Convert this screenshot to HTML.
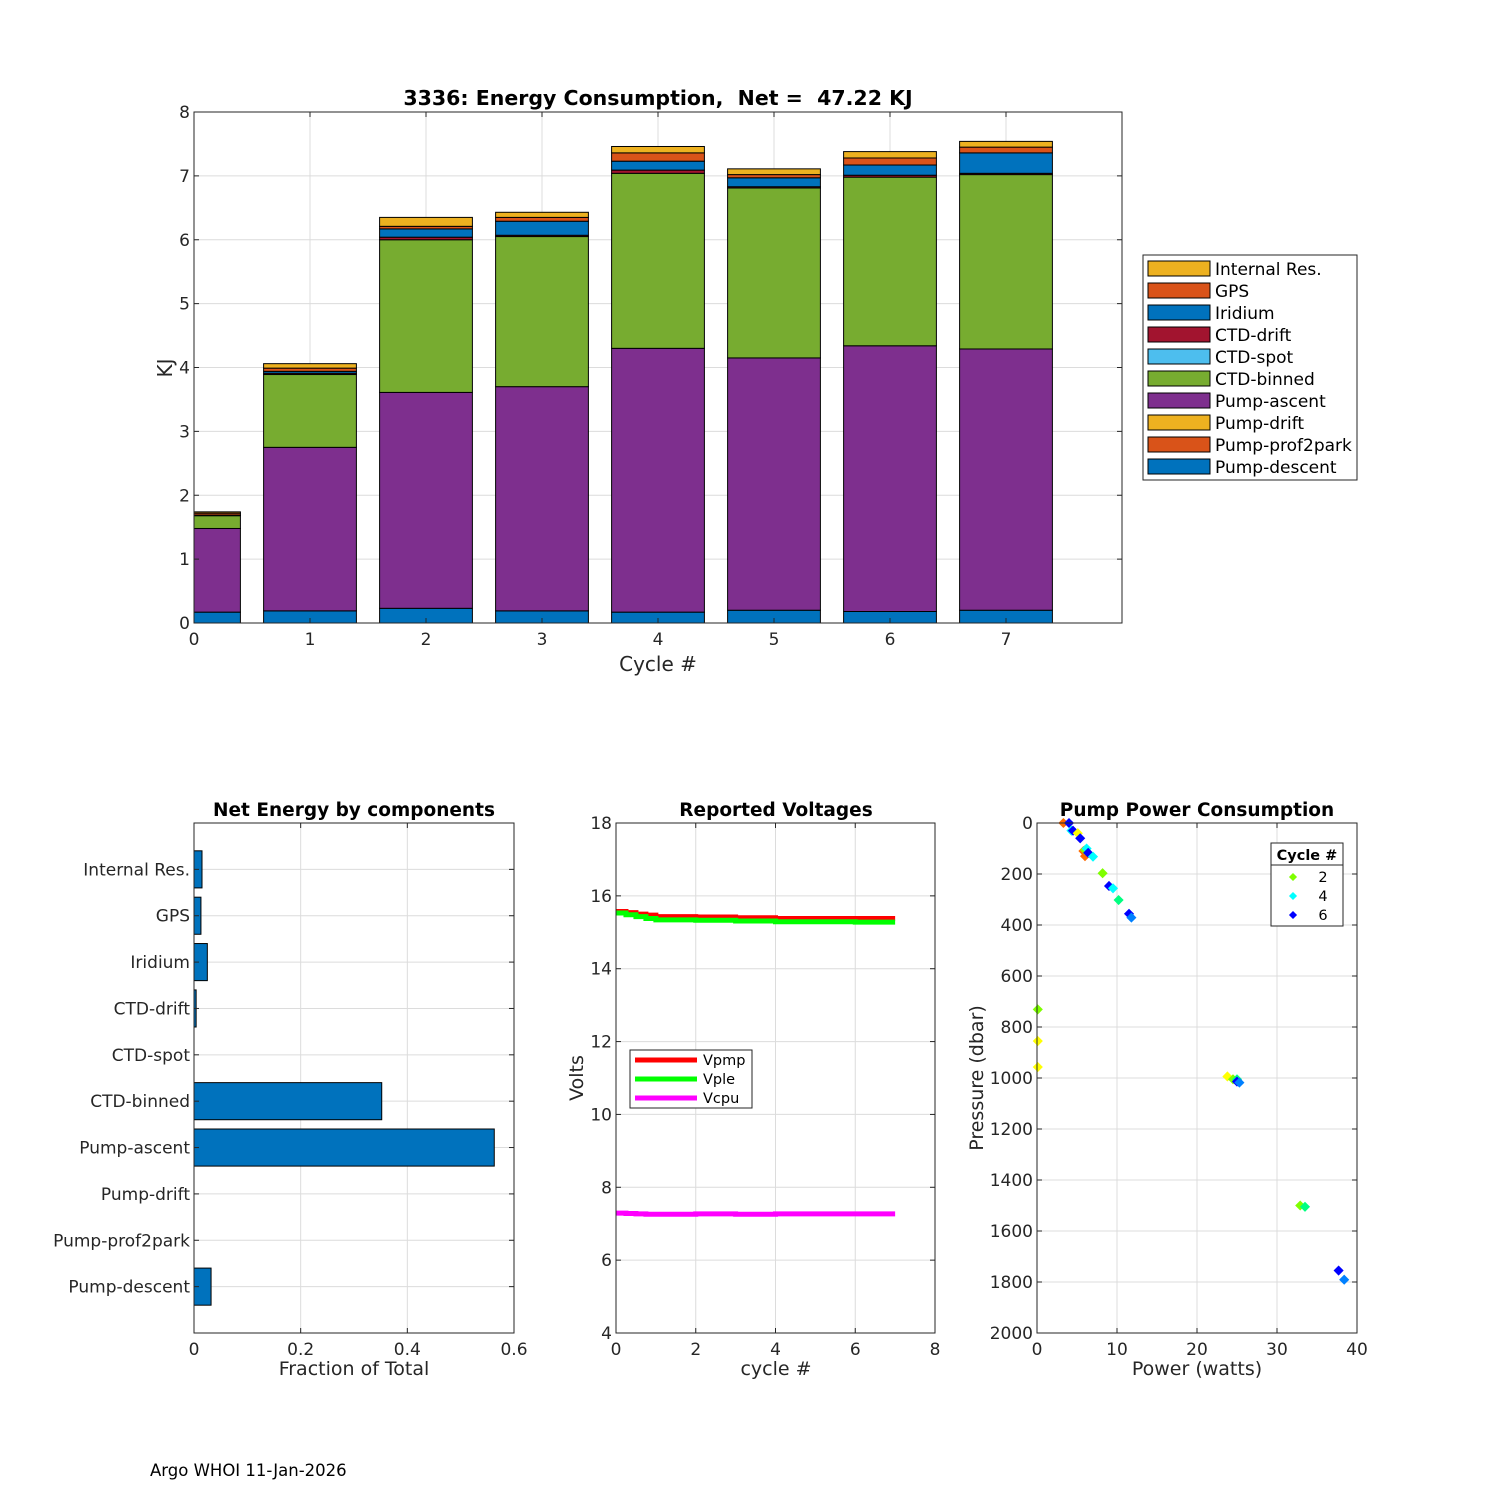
<!DOCTYPE html>
<html><head><meta charset="utf-8"><style>
html,body{margin:0;padding:0;background:#fff;}
svg{display:block;font-family:"DejaVu Sans","Liberation Sans",sans-serif;}
text{white-space:pre;}
</style></head><body>
<svg id="fig" width="1500" height="1500" viewBox="0 0 1500 1500">
<rect width="1500" height="1500" fill="#fff"/>
<text x="150" y="1476" font-size="16.5" fill="#000">Argo WHOI 11-Jan-2026</text>
</svg>
<script>
// ---------- DATA ----------
const cycles = [0,1,2,3,4,5,6,7];
const compNames = ["Pump-descent","Pump-prof2park","Pump-drift","Pump-ascent","CTD-binned","CTD-spot","CTD-drift","Iridium","GPS","Internal Res."];
const compColors = ["#0072BD","#D95319","#EDB120","#7E2F8E","#77AC30","#4DBEEE","#A2142F","#0072BD","#D95319","#EDB120"];
const pumpDescent = [0.17,0.19,0.23,0.19,0.17,0.20,0.18,0.20];
const pumpProf2park = [0,0,0,0,0,0,0,0];
const pumpDrift = [0,0,0,0,0,0,0,0];
const pumpAscent = [1.31,2.56,3.38,3.51,4.13,3.95,4.16,4.09];
const ctdBinned = [0.20,1.14,2.39,2.35,2.74,2.66,2.64,2.73];
const ctdSpot = [0,0,0,0,0,0,0,0];
const ctdDrift = [0.005,0.02,0.04,0.02,0.05,0.02,0.03,0.02];
const iridium = [0.005,0.03,0.13,0.22,0.14,0.14,0.16,0.32];
const gps = [0.03,0.05,0.04,0.06,0.13,0.05,0.11,0.09];
const internalRes = [0.02,0.07,0.14,0.08,0.10,0.09,0.10,0.09];
const netFraction = [0.032,0,0,0.563,0.352,0,0.004,0.025,0.013,0.015];
const vX = [0,0.25,0.5,0.75,1,2,3,4,5,6,7];
const vpmp = [15.57,15.54,15.50,15.47,15.43,15.42,15.40,15.38,15.38,15.38,15.38];
const vple = [15.53,15.48,15.43,15.38,15.34,15.33,15.31,15.29,15.29,15.28,15.28];
const vcpu = [7.29,7.28,7.27,7.26,7.26,7.27,7.26,7.27,7.27,7.27,7.27];
const pumpPower = [3.3,4.0,4.3,4.5,5.1,5.4,5.8,6.0,6.0,6.2,6.4,7.0,8.2,9.0,9.5,10.2,11.5,11.8,0.1,0.1,0.1,23.8,24.5,25.0,25.0,25.3,32.9,33.5,37.7,38.4];
const pumpPres = [0,0,30,30,40,60,110,130,106,100,117,132,197,247,256,302,356,371,731,855,957,994,1005,1005,1014,1018,1500,1505,1755,1791];
const pumpCycle = [0,6,4,6,1,6,0,0,2,4,6,4,2,6,4,3,6,5,2,1,1,1,2,3,6,5,2,3,6,5];
const cycleColors = ["#FF6A00","#FFFF00","#7FFF00","#00FF80","#00FFFF","#0080FF","#0000FF","#000080"];

const NS="http://www.w3.org/2000/svg";
const svg=document.getElementById('fig');
const TICK=17;
function mk(tag,attrs,parent){const e=document.createElementNS(NS,tag);for(const k in attrs)e.setAttribute(k,attrs[k]);(parent||svg).appendChild(e);return e;}
function txt(x,y,s,attrs,parent){const t=mk('text',Object.assign({x:x,y:y,'font-size':TICK,fill:'#262626'},attrs||{}),parent);t.textContent=s;return t;}

function axesFrame(L,T,R,B,xt,yt,sx,sy,g){
  xt.forEach(v=>{const x=sx(v);mk('line',{x1:x,y1:T,x2:x,y2:B,stroke:'#dcdcdc','stroke-width':1},g);});
  yt.forEach(v=>{const y=sy(v);mk('line',{x1:L,y1:y,x2:R,y2:y,stroke:'#dcdcdc','stroke-width':1},g);});
}
function axesBox(L,T,R,B,xt,yt,sx,sy,g,xl,yl){
  mk('rect',{x:L,y:T,width:R-L,height:B-T,fill:'none',stroke:'#262626','stroke-width':1},g);
  xt.forEach((v,i)=>{const x=sx(v);mk('line',{x1:x,y1:B,x2:x,y2:B-5,stroke:'#262626'},g);mk('line',{x1:x,y1:T,x2:x,y2:T+5,stroke:'#262626'},g);
    const t=txt(x,B+22,xl[i],{'text-anchor':'middle'},g);});
  yt.forEach((v,i)=>{const y=sy(v);mk('line',{x1:L,y1:y,x2:L+5,y2:y,stroke:'#262626'},g);mk('line',{x1:R,y1:y,x2:R-5,y2:y,stroke:'#262626'},g);
    if(yl){const t=txt(L-4,y+6,yl[i],{'text-anchor':'end'},g);}});
}

// ---------- TOP CHART ----------
(function(){
  const g=mk('g',{});
  
  
  const L=194,T=112,R=1122,B=623;
  const sx=v=>L+(v/8)*(R-L), sy=v=>B-(v/8)*(B-T);
  const ticks=[0,1,2,3,4,5,6,7,8];
  axesFrame(L,T,R,B,ticks.slice(0,8),ticks,sx,sy,g);
  const series=[pumpDescent,pumpProf2park,pumpDrift,pumpAscent,ctdBinned,ctdSpot,ctdDrift,iridium,gps,internalRes];
  const clip=mk('clipPath',{id:'topclip'},g);mk('rect',{x:L,y:T,width:R-L,height:B-T},clip);
  const bars=mk('g',{'clip-path':'url(#topclip)'},g);
  cycles.forEach((c,i)=>{
    let base=0;
    series.forEach((s,k)=>{
      const v=s[i];
      const r=mk('rect',{x:sx(c-0.4),y:sy(base+v),width:sx(c+0.4)-sx(c-0.4),height:sy(base)-sy(base+v),fill:compColors[k],stroke:'#000','stroke-width':1},bars);
      
      
      base+=v;
    });
  });
  axesBox(L,T,R,B,ticks.slice(0,8),ticks,sx,sy,g,ticks.slice(0,8).map(String),ticks.map(String));
  const tt=txt(658,105,'3336: Energy Consumption,  Net =  47.22 KJ',{'text-anchor':'middle','font-size':20.5,'font-weight':'bold',fill:'#000'},g);
  
  const xl=txt(658,671,'Cycle #',{'text-anchor':'middle','font-size':20},g);
  
  const yl=txt(0,0,'KJ',{'text-anchor':'middle','font-size':20,transform:'translate(172,368) rotate(-90)'},g);
  
  const lg=mk('g',{},g);
  
  mk('rect',{x:1143,y:255,width:214,height:225,fill:'#fff',stroke:'#262626'},lg);
  for(let j=0;j<10;j++){
    const k=9-j, y=268+j*22;
    const e=mk('g',{},lg);
    
    mk('rect',{x:1148,y:y-7,width:62,height:15,fill:compColors[k],stroke:'#000'},e);
    txt(1215,y+7,compNames[k],{fill:'#000'},e);
  }
})();

// ---------- NET ENERGY BY COMPONENTS ----------
(function(){
  const g=mk('g',{});
  
  const L=194,T=823,R=514,B=1333;
  const sx=v=>L+(v/0.6)*(R-L), sy=v=>B-(v/11)*(B-T);
  const xt=[0,0.2,0.4,0.6], yt=[1,2,3,4,5,6,7,8,9,10];
  axesFrame(L,T,R,B,xt,yt,sx,sy,g);
  netFraction.forEach((v,k)=>{
    const yc=k+1;
    if(v>0){const r=mk('rect',{x:sx(0),y:sy(yc+0.4),width:sx(v)-sx(0),height:sy(yc-0.4)-sy(yc+0.4),fill:'#0072BD',stroke:'#000'},g);
    }
  });
  axesBox(L,T,R,B,xt,yt,sx,sy,g,['0','0.2','0.4','0.6'],compNames);
  const t=txt(354,816,'Net Energy by components',{'text-anchor':'middle','font-size':18.5,'font-weight':'bold',fill:'#000'},g);
  
  const xl=txt(354,1375,'Fraction of Total',{'text-anchor':'middle','font-size':19},g);
  
})();

// ---------- VOLTAGES ----------
(function(){
  const g=mk('g',{});
  
  const L=616,T=823,R=935,B=1333;
  const sx=v=>L+(v/8)*(R-L), sy=v=>B-((v-4)/14)*(B-T);
  const xt=[0,2,4,6,8], yt=[4,6,8,10,12,14,16,18];
  axesFrame(L,T,R,B,xt,yt,sx,sy,g);
  function stairs(ys,color,name){
    let d='';
    vX.forEach((x,i)=>{ if(i===0) d+='M'+sx(x)+','+sy(ys[i]); else d+=' H'+sx(x)+' V'+sy(ys[i]); });
    const p=mk('path',{d:d,fill:'none',stroke:color,'stroke-width':5},g);
    
  }
  stairs(vcpu,'#FF00FF','vcpu-line');
  stairs(vpmp,'#FF0000','vpmp-line');
  stairs(vple,'#00FF00','vple-line');
  axesBox(L,T,R,B,xt,yt,sx,sy,g,xt.map(String),yt.map(String));
  const t=txt(776,816,'Reported Voltages',{'text-anchor':'middle','font-size':18.5,'font-weight':'bold',fill:'#000'},g);
  
  const xl=txt(776,1375,'cycle #',{'text-anchor':'middle','font-size':19},g);
  
  const yl=txt(0,0,'Volts',{'text-anchor':'middle','font-size':19,transform:'translate(583,1078) rotate(-90)'},g);
  
  const lg=mk('g',{},g);
  mk('rect',{x:630,y:1050,width:122,height:58,fill:'#fff',stroke:'#262626'},lg);
  [['Vpmp','#FF0000'],['Vple','#00FF00'],['Vcpu','#FF00FF']].forEach((e,i)=>{
    const y=1060+i*19;
    mk('line',{x1:635,y1:y,x2:697,y2:y,stroke:e[1],'stroke-width':5},lg);
    txt(703,y+5,e[0],{'font-size':14.5,fill:'#000'},lg);
  });
})();

// ---------- PUMP POWER ----------
(function(){
  const g=mk('g',{});
  
  const L=1037,T=823,R=1357,B=1333;
  const sx=v=>L+(v/40)*(R-L), sy=v=>T+(v/2000)*(B-T);
  const xt=[0,10,20,30,40], yt=[0,200,400,600,800,1000,1200,1400,1600,1800,2000];
  axesFrame(L,T,R,B,xt,yt,sx,sy,g);
  pumpPower.forEach((p,i)=>{
    const x=sx(p),y=sy(pumpPres[i]);
    const m=mk('path',{d:`M${x-4},${y} L${x},${y-4} L${x+4},${y} L${x},${y+4} Z`,fill:cycleColors[pumpCycle[i]],stroke:cycleColors[pumpCycle[i]],'stroke-width':1.5},g);
    
  });
  axesBox(L,T,R,B,xt,yt,sx,sy,g,xt.map(String),yt.map(String));
  const t=txt(1197,816,'Pump Power Consumption',{'text-anchor':'middle','font-size':18.5,'font-weight':'bold',fill:'#000'},g);
  
  const xl=txt(1197,1375,'Power (watts)',{'text-anchor':'middle','font-size':19},g);
  
  const yl=txt(0,0,'Pressure (dbar)',{'text-anchor':'middle','font-size':19,transform:'translate(983,1078) rotate(-90)'},g);
  
  const lg=mk('g',{},g);
  mk('rect',{x:1271,y:843,width:72,height:83,fill:'#fff',stroke:'#262626'},lg);
  mk('line',{x1:1271,y1:865,x2:1343,y2:865,stroke:'#262626'},lg);
  txt(1307,860,'Cycle #',{'text-anchor':'middle','font-size':14.5,'font-weight':'bold',fill:'#000'},lg);
  [[2,877],[4,896],[6,915]].forEach(e=>{
    const x=1293,y=e[1],c=cycleColors[e[0]];
    mk('path',{d:`M${x-3},${y} L${x},${y-3} L${x+3},${y} L${x},${y+3} Z`,fill:c,stroke:c,'stroke-width':1.5},lg);
    txt(1323,y+5,String(e[0]),{'text-anchor':'middle','font-size':14.5,fill:'#000'},lg);
  });
})();
</script>
</body></html>
